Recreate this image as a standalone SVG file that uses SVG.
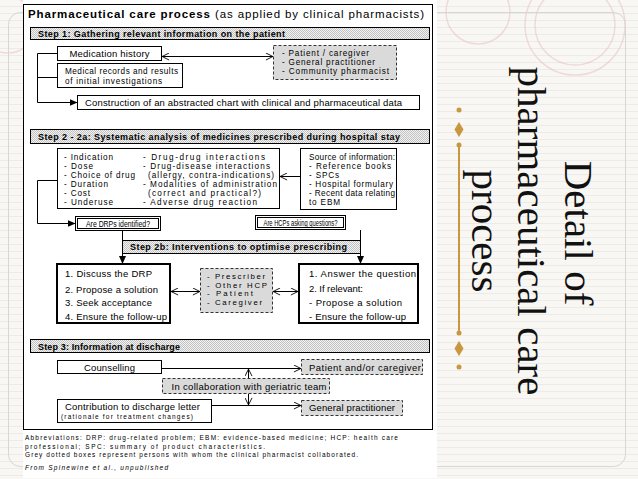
<svg xmlns="http://www.w3.org/2000/svg" width="638" height="479" viewBox="0 0 638 479">
<defs>
<pattern id="lines" width="8" height="7" patternUnits="userSpaceOnUse"><rect width="8" height="7" fill="#f8f7f4"/><line x1="0" y1="6.5" x2="8" y2="6.5" stroke="#edebe8" stroke-width="1"/></pattern>
<pattern id="dither" width="2" height="2" patternUnits="userSpaceOnUse"><rect width="2" height="2" fill="#f2f2f2"/><rect width="1" height="1" fill="#c2c2c2"/><rect x="1" y="1" width="1" height="1" fill="#c2c2c2"/></pattern>
<marker id="arrF" viewBox="0 0 8 8" refX="8" refY="4" markerWidth="8" markerHeight="8" markerUnits="userSpaceOnUse" orient="auto"><path d="M0,0.5 L8,4 L0,7.5 Z" fill="#000"/></marker>
<marker id="arrO" viewBox="0 0 8 8" refX="7.6" refY="4" markerWidth="8" markerHeight="8" markerUnits="userSpaceOnUse" orient="auto-start-reverse"><path d="M0.5,0.5 L7.5,4 L0.5,7.5" fill="none" stroke="#000" stroke-width="0.9"/></marker>
</defs>
<style>
.t{font-family:"Liberation Sans",Arial,sans-serif;font-size:9.5px;fill:#000}
.s{font-family:"Liberation Sans",Arial,sans-serif;font-size:8.2px;fill:#000}
.p{font-family:"Liberation Sans",Arial,sans-serif;font-size:7.8px;fill:#000}
.q{font-family:"Liberation Sans",Arial,sans-serif;font-size:8.8px;fill:#000;text-anchor:middle}
.m{text-anchor:middle}
.h{font-family:"Liberation Sans",Arial,sans-serif;font-size:9px;font-weight:bold;fill:#000}
.box{fill:#fff;stroke:#000;stroke-width:1}
.thick{fill:#fff;stroke:#000;stroke-width:2}
.grey{fill:#dadada;stroke:#333;stroke-width:1;stroke-dasharray:3 2}
.bar{fill:url(#dither);stroke:#000;stroke-width:1}
.c{fill:none;stroke:#000;stroke-width:1}
.fn{font-family:"Liberation Sans",Arial,sans-serif;font-size:6.5px;fill:#000}
.side{font-family:"Liberation Serif","Times New Roman",serif;font-size:41px;fill:#111;text-anchor:middle}
.gold{fill:#c9973f}
</style>

<!-- slide background -->
<rect x="0" y="0" width="638" height="479" fill="url(#lines)"/>
<g fill="none" stroke="#e3b9b9" stroke-opacity="0.45" stroke-width="1.5">
<circle cx="575" cy="25" r="50"/>
<circle cx="575" cy="25" r="40"/>
<circle cx="478" cy="12" r="32"/>
<circle cx="8" cy="25" r="28"/>
</g>
<rect x="8.5" y="12.5" width="617" height="454" rx="12" fill="none" stroke="#d6d6d6" stroke-width="1"/>

<!-- diagram panel -->
<rect x="23" y="0" width="414" height="478" fill="#fff"/>
<rect id="frame" x="23.5" y="4.5" width="409" height="425" fill="#fff" stroke="#000" stroke-width="1"/>

<text id="title" y="17.5" font-family="'Liberation Sans',Arial,sans-serif" font-size="11.5"><tspan x="28" font-weight="bold" textLength="182" lengthAdjust="spacing">Pharmaceutical care process</tspan><tspan x="215" textLength="209" lengthAdjust="spacing">(as applied by clinical pharmacists)</tspan></text>

<g id="step1">
<rect class="bar" x="30.5" y="27.5" width="399" height="12"/>
<text class="h" x="38" y="36.5" textLength="247" lengthAdjust="spacing">Step 1: Gathering relevant information on the patient</text>
</g>
<g id="medication-history">
<rect class="box" x="57.5" y="46.5" width="104" height="14"/>
<text class="t m" x="109.5" y="57" textLength="80" lengthAdjust="spacing">Medication history</text>
</g>
<g id="medical-records">
<rect class="box" x="57.5" y="63.5" width="125" height="24"/>
<text class="s" x="65" y="74" textLength="113" lengthAdjust="spacing">Medical records and results</text>
<text class="s" x="65" y="83.5" textLength="97" lengthAdjust="spacing">of initial investigations</text>
</g>
<g id="sources1">
<rect class="grey" x="273.5" y="45.5" width="123" height="34"/>
<text class="s" x="282" y="56" textLength="87" lengthAdjust="spacing">- Patient / caregiver</text>
<text class="s" x="282" y="65" textLength="93" lengthAdjust="spacing">- General practitioner</text>
<text class="s" x="282" y="74" textLength="107" lengthAdjust="spacing">- Community pharmacist</text>
</g>
<g id="construction">
<rect class="box" x="77.5" y="95.5" width="342" height="14"/>
<text class="t" x="85" y="106" textLength="317" lengthAdjust="spacing">Construction of an abstracted chart with clinical and pharmaceutical data</text>
</g>

<g id="step2a">
<rect class="bar" x="30.5" y="129.5" width="399" height="14"/>
<text class="h" x="38" y="139.5" textLength="362" lengthAdjust="spacing">Step 2 - 2a: Systematic analysis of medicines prescribed during hospital stay</text>
</g>
<g id="analysis">
<rect class="box" x="57.5" y="148.5" width="222" height="60"/>
<text class="s" x="64" y="159.5" textLength="49" lengthAdjust="spacing">- Indication</text>
<text class="s" x="64" y="168.5" textLength="29" lengthAdjust="spacing">- Dose</text>
<text class="s" x="64" y="177.5" textLength="71" lengthAdjust="spacing">- Choice of drug</text>
<text class="s" x="64" y="186.5" textLength="44" lengthAdjust="spacing">- Duration</text>
<text class="s" x="64" y="195.5" textLength="26" lengthAdjust="spacing">- Cost</text>
<text class="s" x="64" y="204.5" textLength="49" lengthAdjust="spacing">- Underuse</text>
<text class="s" x="143" y="159.5" textLength="122" lengthAdjust="spacing">- Drug-drug interactions</text>
<text class="s" x="143" y="168.5" textLength="127" lengthAdjust="spacing">- Drug-disease interactions</text>
<text class="s" x="148" y="177.5" textLength="126" lengthAdjust="spacing">(allergy, contra-indications)</text>
<text class="s" x="143" y="186.5" textLength="134" lengthAdjust="spacing">- Modalities of administration</text>
<text class="s" x="148" y="195.5" textLength="113" lengthAdjust="spacing">(correct and practical?)</text>
<text class="s" x="143" y="204.5" textLength="114" lengthAdjust="spacing">- Adverse drug reaction</text>
</g>
<g id="information-source">
<rect class="box" x="300.5" y="148.5" width="96" height="61"/>
<text class="s" x="309" y="159.5" textLength="86" lengthAdjust="spacing">Source of information:</text>
<text class="s" x="309" y="168.5" textLength="82" lengthAdjust="spacing">- Reference books</text>
<text class="s" x="309" y="177.5" textLength="30" lengthAdjust="spacing">- SPCs</text>
<text class="s" x="309" y="186.5" textLength="84" lengthAdjust="spacing">- Hospital formulary</text>
<text class="s" x="309" y="195.5" textLength="86" lengthAdjust="spacing">- Recent data relating</text>
<text class="s" x="309" y="204.5" textLength="31" lengthAdjust="spacing">to EBM</text>
</g>
<g id="drps">
<rect class="box" x="75.5" y="216.5" width="85" height="14"/>
<rect class="box" x="77.5" y="218.5" width="81" height="10"/>
<text class="q" x="118" y="226.6" textLength="64" lengthAdjust="spacingAndGlyphs">Are DRPs identified?</text>
</g>
<g id="hcps">
<rect class="box" x="255.5" y="215.5" width="90" height="14"/>
<rect class="box" x="257.5" y="217.5" width="86" height="10"/>
<text class="q" x="300.5" y="225.6" textLength="74" lengthAdjust="spacingAndGlyphs">Are HCPs asking questions?</text>
</g>
<g id="step2b">
<rect class="bar" x="122.5" y="240.5" width="238" height="13"/>
<text class="h" x="130" y="250" textLength="217" lengthAdjust="spacing">Step 2b: Interventions to optimise prescribing</text>
</g>
<g id="drp-actions">
<rect class="thick" x="57" y="264" width="113" height="59"/>
<text class="t" x="65" y="277" textLength="87" lengthAdjust="spacing">1. Discuss the DRP</text>
<text class="t" x="65" y="292.5" textLength="93" lengthAdjust="spacing">2. Propose a solution</text>
<text class="t" x="65" y="306" textLength="87" lengthAdjust="spacing">3. Seek acceptance</text>
<text class="t" x="65" y="319.5" textLength="102" lengthAdjust="spacing">4. Ensure the follow-up</text>
</g>
<g id="partners">
<rect class="grey" x="200.5" y="268.5" width="72" height="44"/>
<text class="p" x="207" y="279" textLength="58" lengthAdjust="spacing">- Prescriber</text>
<text class="p" x="207" y="287.7" textLength="60" lengthAdjust="spacing">- Other HCP</text>
<text class="p" x="207" y="296.4" textLength="46" lengthAdjust="spacing">- Patient</text>
<text class="p" x="207" y="305.1" textLength="55" lengthAdjust="spacing">- Caregiver</text>
</g>
<g id="hcp-actions">
<rect class="thick" x="299" y="264" width="119" height="59"/>
<text class="t" x="309" y="277" textLength="107" lengthAdjust="spacing">1. Answer the question</text>
<text class="t" x="309" y="291.5" textLength="54" lengthAdjust="spacing">2. If relevant:</text>
<text class="t" x="309" y="305.5" textLength="93" lengthAdjust="spacing">- Propose a solution</text>
<text class="t" x="309" y="319.5" textLength="97" lengthAdjust="spacing">- Ensure the follow-up</text>
</g>

<g id="step3">
<rect class="bar" x="30.5" y="339.5" width="399" height="13"/>
<text class="h" x="38" y="349.5" textLength="142" lengthAdjust="spacing">Step 3: Information at discharge</text>
</g>
<g id="counselling">
<rect class="box" x="57.5" y="360.5" width="104" height="13"/>
<text class="t m" x="109.5" y="370.5" textLength="51" lengthAdjust="spacing">Counselling</text>
</g>
<g id="patient-caregiver">
<rect class="grey" x="301.5" y="359.5" width="121" height="15"/>
<text class="t" x="309" y="370.5" textLength="112" lengthAdjust="spacing">Patient and/or caregiver</text>
</g>
<g id="geriatric-team">
<rect class="grey" x="162.5" y="378.5" width="167" height="15"/>
<text class="t" x="171.5" y="389.5" textLength="155" lengthAdjust="spacing">In collaboration with geriatric team</text>
</g>
<g id="discharge-letter">
<rect class="box" x="57.5" y="399.5" width="154" height="23"/>
<text class="t" x="65" y="410" textLength="135" lengthAdjust="spacing">Contribution to discharge letter</text>
<text class="fn" x="61" y="419" textLength="132" lengthAdjust="spacing">(rationale for treatment changes)</text>
</g>
<g id="gp">
<rect class="grey" x="301.5" y="400.5" width="101" height="15"/>
<text class="t" x="309" y="411" textLength="86" lengthAdjust="spacing">General practitioner</text>
</g>

<g id="connectors">
<path class="c" d="M57,53.5 H37.5 V102.5 H77.5" marker-end="url(#arrF)"/>
<path class="c" d="M37.5,77.5 H57"/>
<path class="c" d="M162,56.5 H273" marker-start="url(#arrO)" marker-end="url(#arrO)"/>
<path class="c" d="M300,176.5 H280" marker-end="url(#arrO)"/>
<path class="c" d="M57,180.5 H37.5 V223.5 H75.5" marker-end="url(#arrF)"/>
<path class="c" d="M122.5,231 V264" marker-end="url(#arrF)"/>
<path class="c" d="M360.5,230 V264" marker-end="url(#arrF)"/>
<path class="c" d="M171,291.5 H200" marker-start="url(#arrO)" marker-end="url(#arrO)"/>
<path class="c" d="M273,291.5 H298" marker-start="url(#arrO)" marker-end="url(#arrO)"/>
<path class="c" d="M162,368.5 H301" marker-end="url(#arrO)"/>
<path class="c" d="M212,405.5 H301" marker-end="url(#arrO)"/>
<path class="c" d="M248.5,378 V369" marker-end="url(#arrO)"/>
<path class="c" d="M248.5,394 V405" marker-end="url(#arrO)"/>
</g>

<g id="footnotes">
<text class="fn" x="25" y="439.5" textLength="373" lengthAdjust="spacing">Abbreviations: DRP: drug-related problem; EBM: evidence-based medicine; HCP: health care</text>
<text class="fn" x="25" y="448.5" textLength="240" lengthAdjust="spacing">professional; SPC: summary of product characteristics.</text>
<text class="fn" x="25" y="457" textLength="333" lengthAdjust="spacing">Grey dotted boxes represent persons with whom the clinical pharmacist collaborated.</text>
<text class="fn" x="25" y="469.5" font-style="italic" textLength="143" lengthAdjust="spacing">From Spinewine et al., unpublished</text>
</g>

<g id="slide-title">
<text class="side" transform="translate(565 233) rotate(90)">Detail of</text>
<text class="side" transform="translate(518 231) rotate(90)">pharmaceutical care</text>
<text class="side" transform="translate(472 231) rotate(90)">process</text>
</g>
<g id="ornament">
<rect class="gold" x="458" y="145" width="2" height="188"/>
<circle class="gold" cx="459" cy="110" r="2.5"/>
<circle class="gold" cx="459" cy="145" r="2.5"/>
<circle class="gold" cx="459" cy="333" r="2.5"/>
<circle class="gold" cx="459" cy="367" r="2.5"/>
<polygon class="gold" points="459,122 463.5,129.5 459,137 454.5,129.5"/>
<polygon class="gold" points="459,341 463.5,348.5 459,356 454.5,348.5"/>
</g>
</svg>
